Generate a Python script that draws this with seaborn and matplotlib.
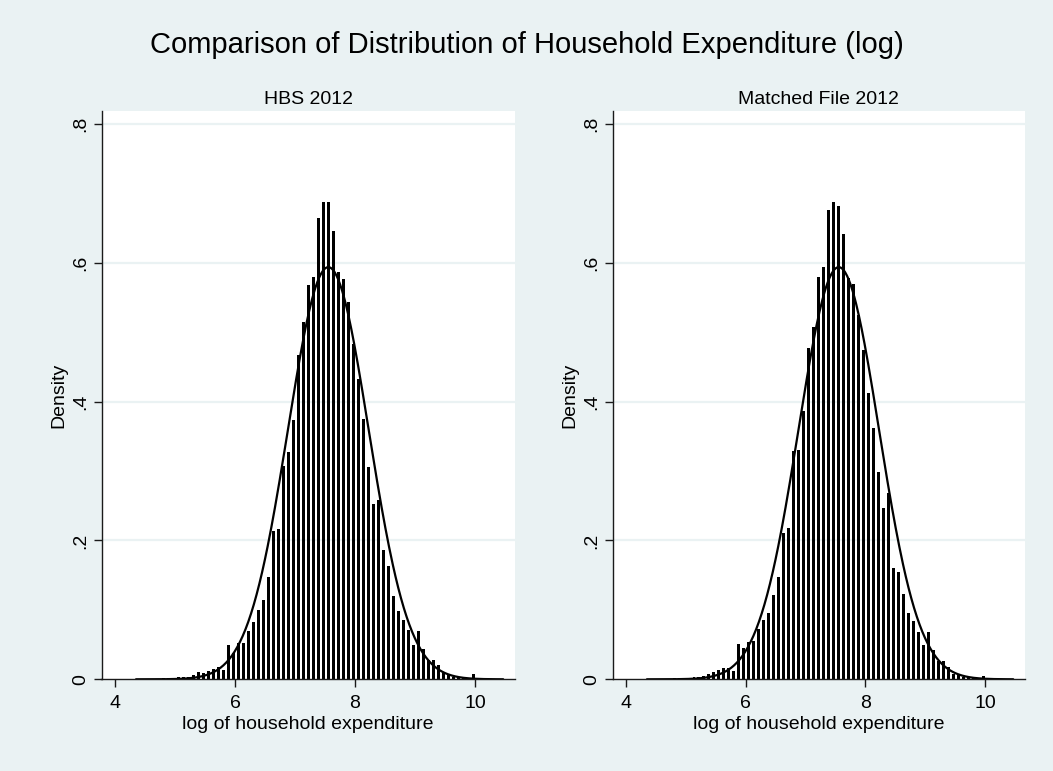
import numpy as np
import pandas as pd
import seaborn as sns
import matplotlib
matplotlib.use("Agg")
import matplotlib.pyplot as plt

# ---------------- data ----------------
main_title = "Comparison of Distribution of Household Expenditure (log)"
panel_titles = ["HBS 2012", "Matched File 2012"]
x_label = "log of household expenditure"
y_label = "Density"
x_ticks = [4, 6, 8, 10]
x_tick_labels = ["4", "6", "8", "10"]
y_ticks = [0, 0.2, 0.4, 0.6, 0.8]
y_tick_labels = ["0", ".2", ".4", ".6", ".8"]

first_bin_edge = 4.345      # lower edge of the first histogram bin
bin_width = 1 / 12          # width of each bin
data_min, data_max = 4.35, 10.47

hbs_density = [
    0.001, 0.001, 0.001, 0.001, 0.001, 0.002, 0.002, 0.002, 0.003, 0.003,
    0.004, 0.006, 0.010, 0.009, 0.012, 0.015, 0.017, 0.013, 0.049, 0.038,
    0.052, 0.053, 0.070, 0.083, 0.100, 0.114, 0.148, 0.213, 0.216, 0.307,
    0.328, 0.373, 0.467, 0.515, 0.568, 0.580, 0.665, 0.688, 0.688, 0.646,
    0.586, 0.576, 0.544, 0.483, 0.432, 0.375, 0.306, 0.252, 0.258, 0.186,
    0.163, 0.120, 0.099, 0.086, 0.071, 0.050, 0.069, 0.043, 0.028, 0.028,
    0.021, 0.009, 0.006, 0.004, 0.003, 0.002, 0.002, 0.008, 0.001, 0.001,
    0.001, 0.0005, 0.0005, 0.0005,
]
matched_density = [
    0.001, 0.001, 0.001, 0.001, 0.001, 0.002, 0.002, 0.002, 0.002, 0.003,
    0.004, 0.005, 0.008, 0.010, 0.013, 0.016, 0.016, 0.012, 0.051, 0.045,
    0.054, 0.055, 0.073, 0.085, 0.096, 0.121, 0.148, 0.211, 0.218, 0.329,
    0.330, 0.386, 0.477, 0.508, 0.580, 0.594, 0.676, 0.688, 0.682, 0.641,
    0.578, 0.570, 0.525, 0.475, 0.412, 0.362, 0.298, 0.247, 0.269, 0.161,
    0.154, 0.123, 0.096, 0.084, 0.068, 0.050, 0.068, 0.042, 0.027, 0.027,
    0.018, 0.008, 0.006, 0.004, 0.003, 0.002, 0.002, 0.005, 0.001, 0.001,
    0.001, 0.0005, 0.0005, 0.0005,
]
# normal-density overlay parameters (mean, sd)
normal_params = [(7.555, 0.672), (7.555, 0.672)]

# ---------------- style ----------------
sns.set_theme(style="white")
plt.rcParams["font.family"] = ["Liberation Sans", "DejaVu Sans"]
plt.rcParams["text.color"] = "black"
plt.rcParams["axes.labelcolor"] = "black"
BG = "#EAF2F3"
GRID = "#EAF2F3"
AXC = "#1a1a1a"

W, H = 1053, 771
fig = plt.figure(figsize=(W / 100, H / 100), dpi=100, facecolor=BG)

def px_axes(x0, x1, ytop, ybot):
    return fig.add_axes([x0 / W, (H - ybot) / H, (x1 - x0) / W, (ybot - ytop) / H])

axes = [px_axes(101.5, 515, 110.7, 679.3), px_axes(612.5, 1025, 110.7, 679.3)]
densities = [hbs_density, matched_density]

n_bins = len(hbs_density)
edges = [first_bin_edge + bin_width * i for i in range(n_bins + 1)]
centers = [(edges[i] + edges[i + 1]) / 2 for i in range(n_bins)]

for ax, dens, ttl, (mu, sd) in zip(axes, densities, panel_titles, normal_params):
    ax.set_facecolor("white")
    df = pd.DataFrame({"x": centers, "w": dens})
    sns.histplot(data=df, x="x", weights="w", bins=edges, stat="count",
                 shrink=0.6, color="black", alpha=1, linewidth=0, ax=ax)
    xs = np.linspace(data_min, data_max, 400)
    ys = np.exp(-0.5 * ((xs - mu) / sd) ** 2) / (sd * np.sqrt(2 * np.pi))
    sns.lineplot(x=xs, y=ys, color="black", linewidth=1.6, ax=ax)

    ax.set_xlim(4 - 13.5 / 60, 4 + 400 / 60)
    ax.set_ylim(0, 0.819)
    for g in y_ticks[1:]:
        ax.axhline(g, color=GRID, linewidth=1.6, zorder=0)
    ax.set_xticks(x_ticks)
    ax.set_xticklabels(x_tick_labels, fontsize=14)
    ax.set_yticks(y_ticks)
    ax.set_yticklabels(y_tick_labels, fontsize=14, rotation=90, va="center")
    ax.tick_params(axis="both", direction="out", length=5.5, width=1, color=AXC,
                   labelcolor="black", pad=3)
    ax.tick_params(axis="x", pad=5.5)
    ax.tick_params(axis="both", bottom=True, left=True)
    ax.set_xlabel(x_label, fontsize=14, labelpad=3)
    ax.set_ylabel(y_label, fontsize=14, labelpad=4)
    for s in ["top", "right"]:
        ax.spines[s].set_visible(False)
    for s in ["left", "bottom"]:
        ax.spines[s].set_color(AXC)
        ax.spines[s].set_linewidth(1.0)
    ax.set_title(ttl, fontsize=14, pad=5)

fig.text(527 / W, (H - 45) / H, main_title, ha="center", va="center", fontsize=21)

fig.savefig("out.png", dpi=100, facecolor=BG)
